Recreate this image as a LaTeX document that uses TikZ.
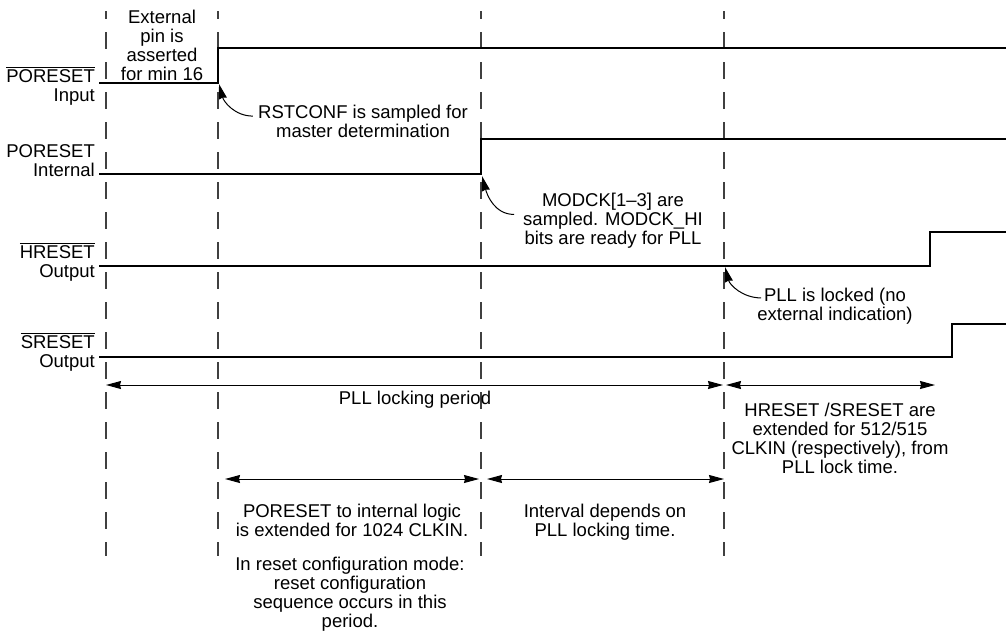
\documentclass[tikz,border=0pt]{standalone}
\usepackage{fontspec}
\setmainfont{Liberation Sans}
\usetikzlibrary{arrows.meta}
\newcommand{\ovl}[1]{$\overline{\mbox{#1}}$}
\tikzset{
	sig/.style = {line width = 2pt},
	guide/.style = {line width = 1.2pt, black!75, dash pattern = on 17pt off 13pt, dash phase = 9pt},
	tip/.tip = {Stealth[length = 15pt, width = 8pt, inset = 1pt]},
	dim/.style = {line width = 1pt, tip-tip},
	note/.style = {line width = 1pt, -tip},
	lbl/.style = {anchor = base east, inner sep = 0pt},
	txt/.style = {align = center, inner sep = 0pt, anchor = north}
}
\begin{document}
\begin{tikzpicture}[x = 1pt, y = -1pt, font = \fontsize{18.5}{19}\selectfont]
\useasboundingbox (0,0) rectangle (1006,630);
\foreach \x in {106,218,481,724}
	\draw[guide] (\x,11) -- (\x,556);
\draw[sig] (99,83) -- (218,83) -- (218,48) -- (1006,48);
\draw[sig] (99,174) -- (481,174) -- (481,139) -- (1006,139);
\draw[sig] (99,266) -- (930,266) -- (930,232) -- (1006,232);
\draw[sig] (99,357) -- (952,357) -- (952,324) -- (1006,324);
\node[lbl] (pin) at (95,82) {\ovl{PORESET}};
\node[lbl] (pinb) at (95,101) {Input};
\node[lbl] (pint) at (95,157) {PORESET};
\node[lbl] (pintb) at (95,176) {Internal};
\node[lbl] (hrst) at (95,258) {\ovl{HRESET}};
\node[lbl] (hrstb) at (95,277) {Output};
\node[lbl] (srst) at (95,348) {\ovl{SRESET}};
\node[lbl] (srstb) at (95,367) {Output};
\node[txt] (ext) at (162,9.7) {External\\pin is\\asserted\\for min 16};
\node[txt] (rst) at (363,104.6) {RSTCONF is sampled for\\master determination};
\node[txt] (modck) at (613,192.6) {MODCK[1--3] are\\sampled. MODCK\_HI\\bits are ready for PLL};
\node[txt] (lock) at (835,287.6) {PLL is locked (no\\external indication)};
\node[anchor = base, inner sep = 0pt] (period) at (415,404) {PLL locking period};
\node[txt] (hs) at (840,402.6) {HRESET /SRESET are\\extended for 512/515\\CLKIN (respectively), from\\PLL lock time.};
\node[txt] (por) at (352,503.6) {PORESET to internal logic\\is extended for 1024 CLKIN.};
\node[txt] (intv) at (605,503.6) {Interval depends on\\PLL locking time.};
\node[txt] (cfg) at (350,556.6) {In reset configuration mode:\\reset configuration\\sequence occurs in this\\period.};
\coordinate (a1) at (106,385);
\coordinate (a2) at (723,385);
\coordinate (a3) at (726,385);
\coordinate (a4) at (935,385);
\coordinate (b1) at (225,479);
\coordinate (b2) at (479,479);
\coordinate (b3) at (487,479);
\coordinate (b4) at (724,479);
\draw[dim] (a1) -- (a2);
\draw[dim] (a3) -- (a4);
\draw[dim] (b1) -- (b2);
\draw[dim] (b3) -- (b4);
\coordinate (rtip) at (219,84);
\coordinate (mtip) at (482,176);
\coordinate (ltip) at (725,267);
\draw[note] ([xshift = -5pt, yshift = 5pt]rst.west) to[out = 180, in = -75] (rtip);
\draw[note] ([xshift = -9pt, yshift = 6pt]modck.west) to[out = 180, in = -75] (mtip);
\draw[note] ([xshift = 4pt, yshift = 8pt]lock.west) to[out = 180, in = -75] (ltip);
\end{tikzpicture}
\end{document}
